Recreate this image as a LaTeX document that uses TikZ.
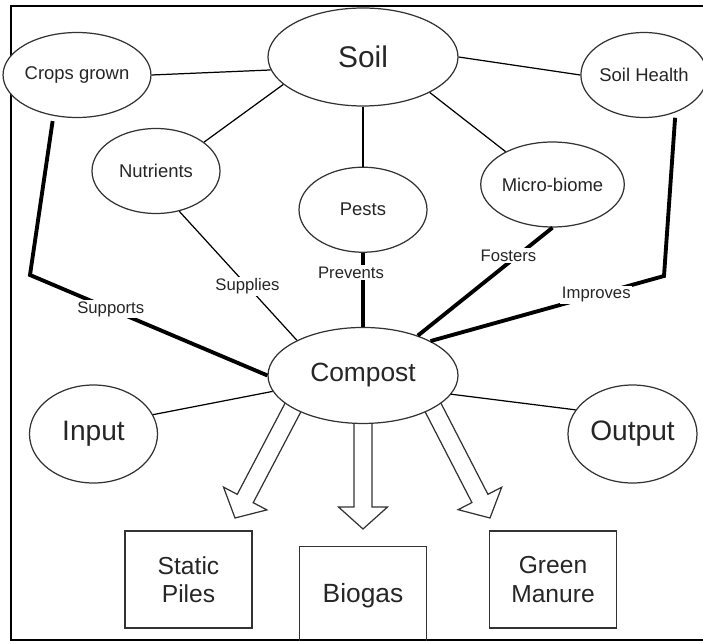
\documentclass[tikz,border=0pt]{standalone}
\usepackage{fontspec}
\setmainfont{Liberation Sans}
\usetikzlibrary{shapes.geometric, positioning, calc, backgrounds}

\begin{document}
\begin{tikzpicture}[
      node distance=1.2cm,
      bubble/.style={ellipse, draw=black!80, line width=0.7pt, fill=white, inner sep=0pt,
        minimum width=2.56cm, minimum height=1.7cm, text=black!85, font=\fontsize{10.5}{12}\selectfont},
      bigbubble/.style={bubble, minimum width=3.8cm, minimum height=1.96cm},
      box/.style={rectangle, draw=black!80, line width=0.7pt, minimum width=2.54cm, minimum height=1.94cm,
        align=center, text=black!85, font=\fontsize{14}{16}\selectfont},
      link/.style={line width=0.7pt},
      bond/.style={line width=2.2pt},
      lbl/.style={fill=white, inner sep=1pt, text=black!85, font=\fontsize{9.5}{11}\selectfont},
      hollow/.style={draw=black!80, line width=0.7pt, fill=white}
    ]
    \useasboundingbox (0,0) rectangle (14.06,-12.82);
    \draw[line width=1.7pt] (14.06,-0.12) -- (0.22,-0.12) -- (0.22,-12.8) -- (14.06,-12.8);

    \node[bigbubble, font=\fontsize{17}{20}\selectfont] (soil) at (7.26,-1.14) {Soil};
    \node[bubble] (crops) at (1.54,-1.5) {Crops grown};
    \node[bubble, minimum width=2.36cm] (health) at (12.88,-1.5) {Soil Health};
    \node[bubble] (nutr) at (3.12,-3.42) {Nutrients};
    \node[bubble, below=of soil] (pests) {Pests};
    \node[bubble] (micro) at (11.05,-3.69) {Micro-biome};
    \node[bigbubble, minimum height=1.92cm, font=\fontsize{15}{18}\selectfont, below=1.48cm of pests] (compost) {Compost};
    \node[bubble, minimum height=1.96cm, font=\fontsize{16}{19}\selectfont] (input) at (1.87,-8.68) {Input};
    \node[bubble, minimum width=2.58cm, minimum height=1.96cm, font=\fontsize{16}{19}\selectfont] (output) at (12.65,-8.68) {Output};
    \node[box] (piles) at (3.77,-11.59) {Static\\Piles};
    \node[box, font=\fontsize{15}{18}\selectfont, below=2.44cm of compost] (biogas) {Biogas};
    \node[box] (manure) at (11.06,-11.59) {Green\\Manure};

    % thin links
    \draw[link] (crops.east) -- (soil.188);
    \draw[link] (soil.east) -- (health.west);
    \draw[link] (soil.199) -- (nutr.31);
    \draw[link] (soil) -- (pests);
    \draw[link] (soil.332) -- (micro.145);
    \draw[link] (input.18) -- (compost.190);
    \draw[link] (compost.348) -- (output.157);
    \draw[link] (nutr.300) -- node[lbl, pos=0.58] {Supplies} (compost.152);

    % thick links
    \coordinate (bendL) at (0.6,-5.5);
    \coordinate (bendR) at (13.28,-5.52);
    \draw[bond, shorten <=3pt] (crops.240) -- (bendL) -- node[lbl, pos=0.34] {Supports} (compost.west);
    \draw[bond] (pests) -- node[lbl, pos=0.27, xshift=-0.24cm] {Prevents} (compost);
    \draw[bond] (micro.south) -- node[lbl, pos=0.26, xshift=-0.18cm] {Fosters} (compost.36);
    \draw[bond, shorten <=3pt] (health.310) -- (bendR) -- node[lbl, pos=0.29] {Improves} (compost.27);

    % hollow arrows
    \coordinate (tipL) at (4.70,-10.36);
    \coordinate (tipM) at (7.26,-10.58);
    \coordinate (tipR) at (9.80,-10.36);
    \begin{scope}[on background layer]
      \foreach \tip/\ang in {tipL/205, tipM/270, tipR/335} {
        \coordinate (s) at ($(\tip)!1.18!(compost.\ang)$);
        \coordinate (h) at ($(\tip)!0.44cm!(s)$);
        \draw[hollow] ($(s)!0.18cm!90:(\tip)$) -- ($(h)!0.18cm!-90:(s)$) -- ($(h)!0.49cm!-90:(s)$)
          -- (\tip) -- ($(h)!0.49cm!90:(s)$) -- ($(h)!0.18cm!90:(s)$) -- ($(s)!0.18cm!-90:(\tip)$) -- cycle;
      }
    \end{scope}
  \end{tikzpicture}
\end{document}
